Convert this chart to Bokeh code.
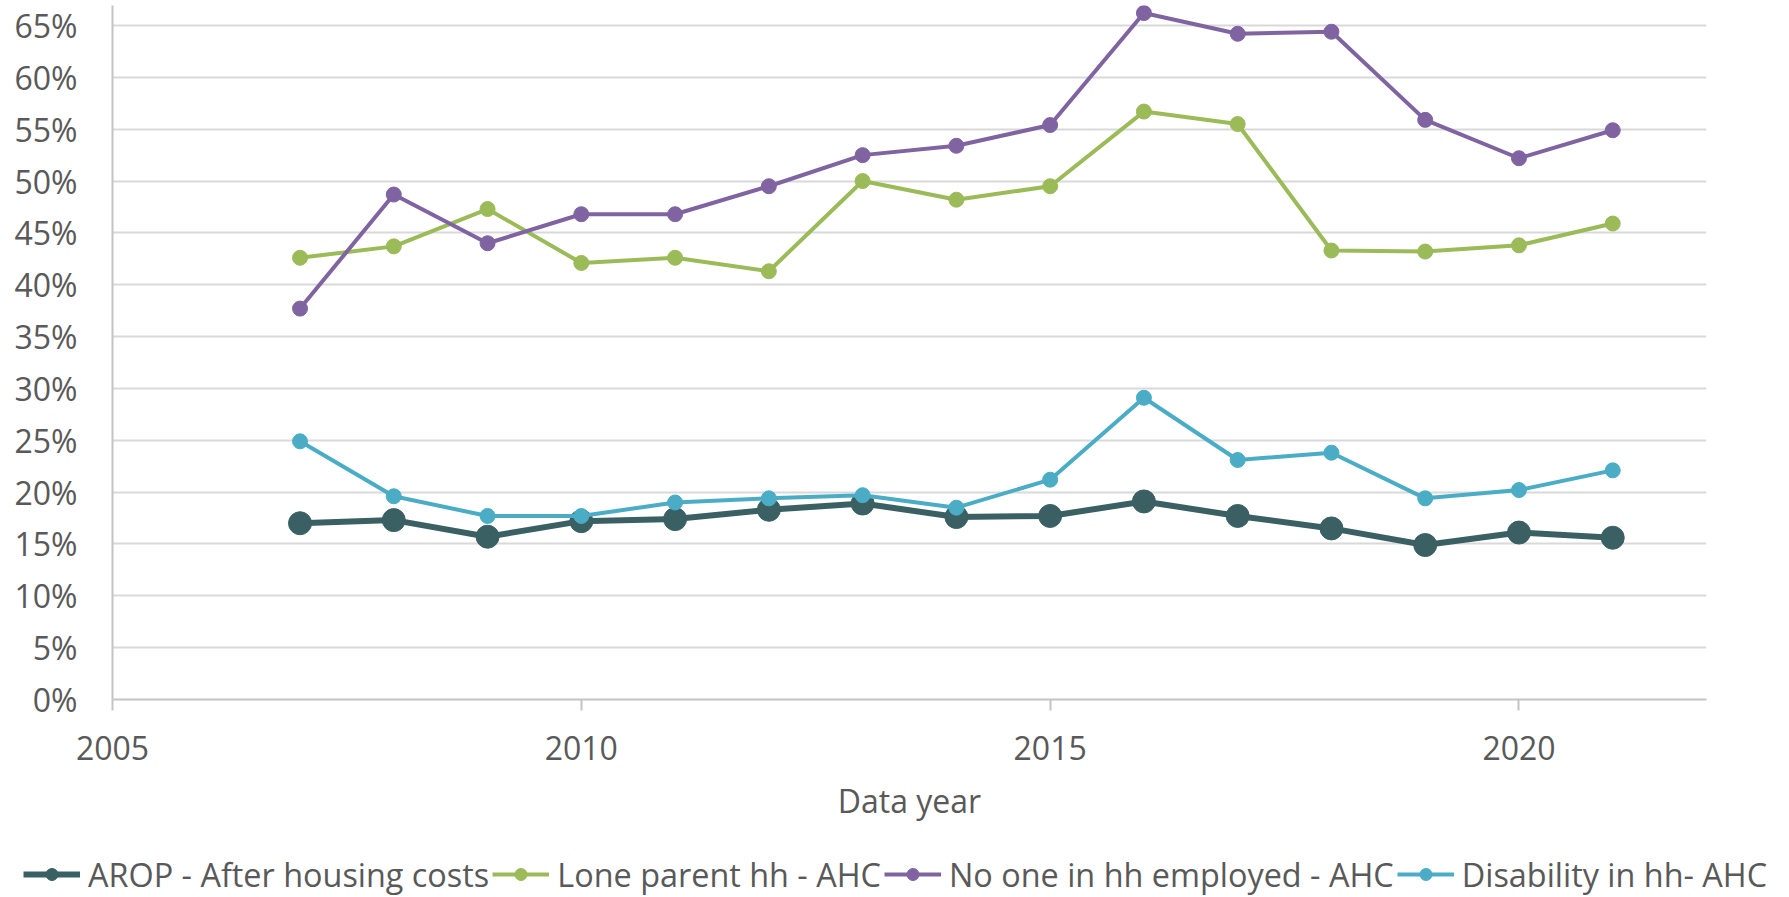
from bokeh.plotting import figure
from bokeh.layouts import column
from bokeh.models import FixedTicker, NumeralTickFormatter, Legend, LegendItem, Range1d
from bokeh.embed import file_html
from bokeh.resources import INLINE

years = list(range(2007, 2022))
arop = [17.0, 17.3, 15.7, 17.2, 17.4, 18.3, 18.9, 17.6, 17.7, 19.1, 17.7, 16.5, 14.9, 16.1, 15.6]
lone_parent = [42.6, 43.7, 47.3, 42.1, 42.6, 41.3, 50.0, 48.2, 49.5, 56.7, 55.5, 43.3, 43.2, 43.8, 45.9]
no_one_employed = [37.7, 48.7, 44.0, 46.8, 46.8, 49.5, 52.5, 53.4, 55.4, 66.2, 64.2, 64.4, 55.9, 52.2, 54.9]
disability = [24.9, 19.6, 17.7, 17.7, 19.0, 19.4, 19.7, 18.5, 21.2, 29.1, 23.1, 23.8, 19.4, 20.2, 22.1]

series_names = ["AROP - After housing costs", "Lone parent hh - AHC",
                "No one in hh employed - AHC", "Disability in hh- AHC"]
x_ticks = [2005, 2010, 2015, 2020]
y_ticks = [i * 0.05 for i in range(14)]

FONT = "Open Sans"
TXT = "#595959"
W = 1773

p = figure(width=W, height=840, output_backend="svg", toolbar_location=None,
           x_range=Range1d(2005, 2022), y_range=Range1d(0, 0.6693),
           min_border_left=112, min_border_right=67, min_border_top=5, min_border_bottom=141)
p.outline_line_color = None
p.frame_align = False

p.xgrid.visible = False
p.ygrid.grid_line_color = "#d9d9d9"
p.ygrid.grid_line_width = 2
p.ygrid.ticker = FixedTicker(ticks=y_ticks)

p.yaxis.ticker = FixedTicker(ticks=y_ticks)
p.yaxis.formatter = NumeralTickFormatter(format="0%")
p.yaxis.major_tick_line_color = None
p.yaxis.minor_tick_line_color = None
p.yaxis.axis_line_color = "#c4c4c4"
p.yaxis.axis_line_width = 2
p.yaxis.major_label_standoff = 29
p.yaxis.major_label_text_font = FONT
p.yaxis.major_label_text_font_size = "32px"
p.yaxis.major_label_text_color = TXT

p.xaxis.ticker = FixedTicker(ticks=x_ticks)
p.xaxis.minor_tick_line_color = None
p.xaxis.axis_line_color = "#c4c4c4"
p.xaxis.axis_line_width = 2
p.xaxis.major_tick_line_color = "#c4c4c4"
p.xaxis.major_tick_line_width = 2
p.xaxis.major_tick_out = 11
p.xaxis.major_tick_in = 0
p.xaxis.major_label_standoff = 25
p.xaxis.major_label_text_font = FONT
p.xaxis.major_label_text_font_size = "32px"
p.xaxis.major_label_text_color = TXT
p.xaxis.axis_label = "Data year"
p.xaxis.axis_label_text_font = FONT
p.xaxis.axis_label_text_font_size = "32px"
p.xaxis.axis_label_text_font_style = "normal"
p.xaxis.axis_label_text_color = TXT
p.xaxis.axis_label_standoff = 16

def pct(v):
    return [a / 100.0 for a in v]

styles = [
    ("#3b6064", 6, 23, arop),
    ("#9bbb59", 4, 15, lone_parent),
    ("#8064a2", 4, 15, no_one_employed),
    ("#4bacc6", 4, 15, disability),
]

# legend strip below the chart (same series, drawn out of view so only the legend shows)
pl = figure(width=W, height=57, output_backend="svg", toolbar_location=None,
            x_range=Range1d(0, 1), y_range=Range1d(0, 1),
            x_axis_type=None, y_axis_type=None,
            min_border_left=0, min_border_right=0, min_border_top=0, min_border_bottom=0)
pl.outline_line_color = None
pl.frame_align = False
pl.xgrid.visible = False
pl.ygrid.visible = False

items = []
for name, (color, lw, ms, vals) in zip(series_names, styles):
    p.line(years, pct(vals), line_color=color, line_width=lw)
    p.scatter(years, pct(vals), size=ms, fill_color=color, line_color=color)
    l2 = pl.line(years, pct(vals), line_color=color, line_width=lw)
    s2 = pl.scatter(years, pct(vals), size=ms, fill_color=color, line_color=color)
    items.append(LegendItem(label=name, renderers=[l2, s2]))

legend = Legend(items=items, orientation="horizontal", location=(23, 1), margin=0,
                glyph_width=57, glyph_height=30, label_standoff=8, spacing=3, padding=0,
                label_text_font=FONT, label_text_font_size="32.4px", label_text_color=TXT,
                background_fill_alpha=0, border_line_alpha=0)
pl.add_layout(legend, "center")

layout = column(p, pl, spacing=0)
open("out.html", "w").write(file_html(layout, INLINE))
